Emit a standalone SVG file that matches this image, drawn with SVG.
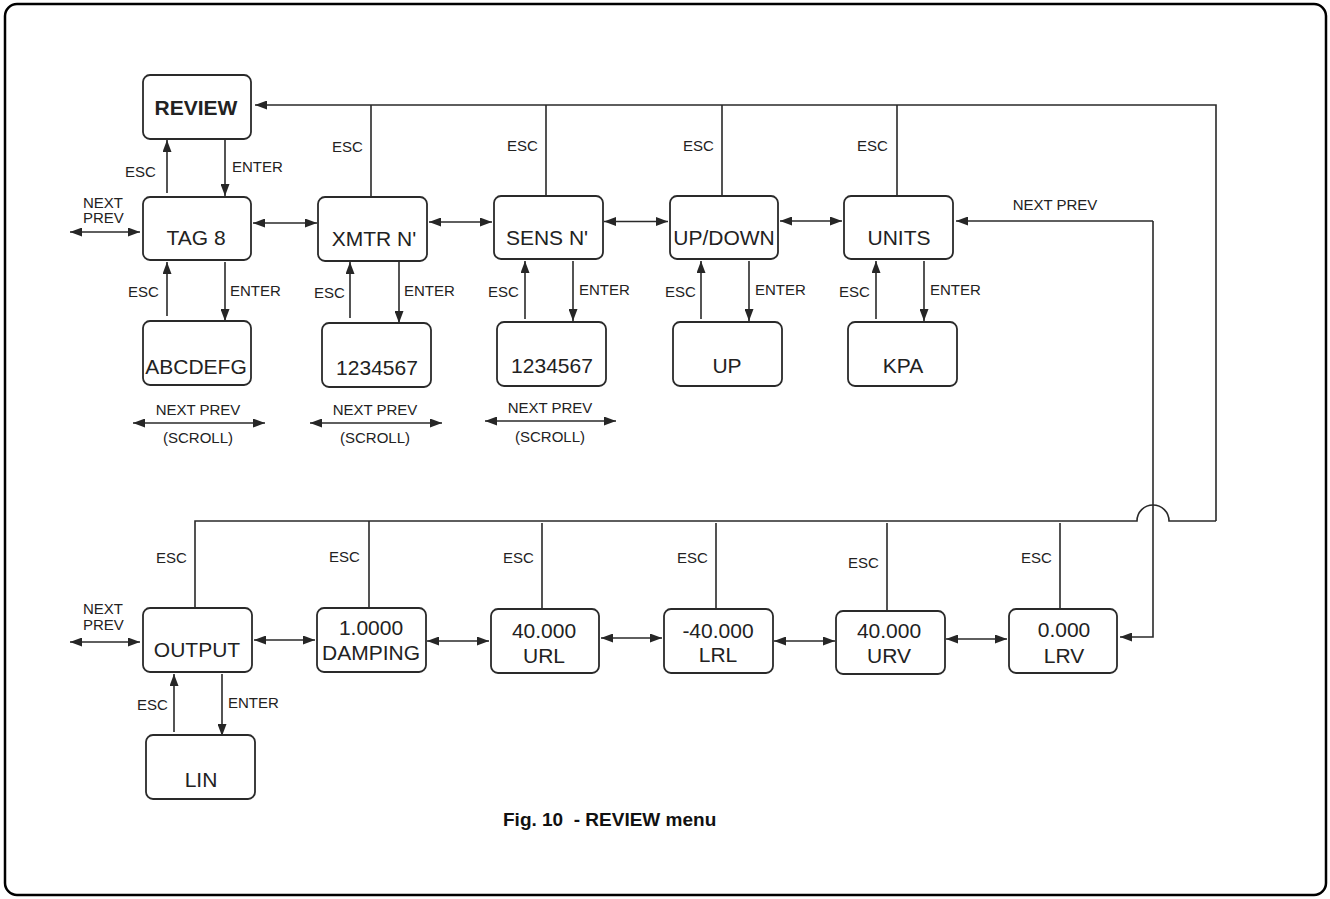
<svg xmlns="http://www.w3.org/2000/svg" width="1330" height="899" viewBox="0 0 1330 899">
<defs>
<marker id="ah" markerUnits="userSpaceOnUse" markerWidth="12" markerHeight="9" refX="12" refY="4.5" orient="auto-start-reverse" viewBox="0 0 12 9">
<path d="M0,0 L12,4.5 L0,9 z" fill="#262626"/>
</marker>
</defs>
<style>
.box{fill:#fff;stroke:#2a2a2a;stroke-width:1.8}
.ln{fill:none;stroke:#2a2a2a;stroke-width:1.6}
.a1{marker-end:url(#ah)}
.a2{marker-start:url(#ah);marker-end:url(#ah)}
.t{font-family:"Liberation Sans",Arial,sans-serif;font-size:21px;fill:#222;text-anchor:middle}
.b{font-weight:bold}
.s{font-family:"Liberation Sans",Arial,sans-serif;font-size:15px;fill:#222}
.sc{text-anchor:middle}
.cap{font-family:"Liberation Sans",Arial,sans-serif;font-size:19px;font-weight:bold;fill:#111;white-space:pre}
</style>
<rect x="5" y="4" width="1321" height="891" rx="12" fill="#fff" stroke="#000" stroke-width="2.5"/>

<g id="connectors">
<path class="ln a1" d="M1216,521 L1216,105 L255,105"/>
<path class="ln" d="M371,105 V197 M546,105 V196 M722,105 V196 M897,105 V196"/>
<path class="ln" d="M1216,521 H1169 A16,16 0 0 0 1137,521 H195 V608"/>
<path class="ln" d="M369,521 V608 M542,523 V609 M716,523 V609 M887,523 V611 M1060,523 V609"/>
<path class="ln a1" d="M1153,221 H956"/>
<path class="ln a1" d="M1153,221 V637 H1120"/>
<path class="ln a1" d="M167,193 V140"/>
<path class="ln a1" d="M225,140 V196"/>
<path class="ln a1" d="M167,316 V262"/>
<path class="ln a1" d="M225,262 V321"/>
<path class="ln a1" d="M350,318 V262"/>
<path class="ln a1" d="M399,262 V323"/>
<path class="ln a1" d="M525,319 V261"/>
<path class="ln a1" d="M573,261 V321"/>
<path class="ln a1" d="M701,319 V261"/>
<path class="ln a1" d="M749,261 V321"/>
<path class="ln a1" d="M876,319 V261"/>
<path class="ln a1" d="M924,261 V321"/>
<path class="ln a1" d="M174,732 V674"/>
<path class="ln a1" d="M222,674 V736"/>
<path class="ln a2" d="M70,232 H140"/>
<path class="ln a2" d="M253,223 H317"/>
<path class="ln a2" d="M429,222 H492"/>
<path class="ln a2" d="M604,221.5 H668"/>
<path class="ln a2" d="M780,221 H842"/>
<path class="ln a2" d="M70,642 H140"/>
<path class="ln a2" d="M254,640 H315"/>
<path class="ln a2" d="M427,641 H489"/>
<path class="ln a2" d="M601,638 H662"/>
<path class="ln a2" d="M774,641 H835"/>
<path class="ln a2" d="M946,639 H1007"/>
<path class="ln a2" d="M133,423 H265"/>
<path class="ln a2" d="M310,423 H442"/>
<path class="ln a2" d="M485,421 H616"/>
<text class="s" x="125" y="177">ESC</text>
<text class="s" x="232" y="172">ENTER</text>
<text class="s" x="332" y="152">ESC</text>
<text class="s" x="507" y="151">ESC</text>
<text class="s" x="683" y="151">ESC</text>
<text class="s" x="857" y="151">ESC</text>
<text class="s" x="83" y="208">NEXT</text>
<text class="s" x="83" y="223">PREV</text>
<text class="s sc" x="1055" y="210">NEXT PREV</text>
<text class="s" x="128" y="297">ESC</text>
<text class="s" x="230" y="296">ENTER</text>
<text class="s" x="314" y="298">ESC</text>
<text class="s" x="404" y="296">ENTER</text>
<text class="s" x="488" y="297">ESC</text>
<text class="s" x="579" y="295">ENTER</text>
<text class="s" x="665" y="297">ESC</text>
<text class="s" x="755" y="295">ENTER</text>
<text class="s" x="839" y="297">ESC</text>
<text class="s" x="930" y="295">ENTER</text>
<text class="s sc" x="198" y="415">NEXT PREV</text>
<text class="s sc" x="198" y="443">(SCROLL)</text>
<text class="s sc" x="375" y="415">NEXT PREV</text>
<text class="s sc" x="375" y="443">(SCROLL)</text>
<text class="s sc" x="550" y="413">NEXT PREV</text>
<text class="s sc" x="550" y="442">(SCROLL)</text>
<text class="s" x="156" y="563">ESC</text>
<text class="s" x="329" y="562">ESC</text>
<text class="s" x="503" y="563">ESC</text>
<text class="s" x="677" y="563">ESC</text>
<text class="s" x="848" y="568">ESC</text>
<text class="s" x="1021" y="563">ESC</text>
<text class="s" x="83" y="614">NEXT</text>
<text class="s" x="83" y="630">PREV</text>
<text class="s" x="137" y="710">ESC</text>
<text class="s" x="228" y="708">ENTER</text>
</g>

<g id="review"><rect class="box" x="143" y="75" width="108" height="64" rx="7"/><text class="t b" x="196" y="115">REVIEW</text></g>
<g id="tag8"><rect class="box" x="143" y="197" width="108" height="63" rx="7"/><text class="t" x="196" y="245">TAG 8</text></g>
<g id="xmtr"><rect class="box" x="318" y="197" width="109" height="64" rx="7"/><text class="t" x="374" y="246">XMTR N'</text></g>
<g id="sens"><rect class="box" x="494" y="196" width="109" height="63" rx="7"/><text class="t" x="547" y="245">SENS N'</text></g>
<g id="updown"><rect class="box" x="670" y="196" width="108" height="63" rx="7"/><text class="t" x="724" y="245">UP/DOWN</text></g>
<g id="units"><rect class="box" x="844" y="196" width="109" height="63" rx="7"/><text class="t" x="899" y="245">UNITS</text></g>

<g id="abcdefg"><rect class="box" x="143" y="321" width="108" height="64" rx="7"/><text class="t" x="196" y="374">ABCDEFG</text></g>
<g id="xmtrval"><rect class="box" x="322" y="323" width="109" height="64" rx="7"/><text class="t" x="377" y="375">1234567</text></g>
<g id="sensval"><rect class="box" x="497" y="322" width="109" height="64" rx="7"/><text class="t" x="552" y="373">1234567</text></g>
<g id="up"><rect class="box" x="673" y="322" width="109" height="64" rx="7"/><text class="t" x="727" y="373">UP</text></g>
<g id="kpa"><rect class="box" x="848" y="322" width="109" height="64" rx="7"/><text class="t" x="903" y="373">KPA</text></g>

<g id="output"><rect class="box" x="143" y="608" width="109" height="64" rx="7"/><text class="t" x="197" y="657">OUTPUT</text></g>
<g id="damping"><rect class="box" x="317" y="608" width="109" height="64" rx="7"/><text class="t" x="371" y="635">1.0000</text><text class="t" x="371" y="660">DAMPING</text></g>
<g id="url"><rect class="box" x="491" y="609" width="108" height="64" rx="7"/><text class="t" x="544" y="638">40.000</text><text class="t" x="544" y="663">URL</text></g>
<g id="lrl"><rect class="box" x="664" y="609" width="109" height="64" rx="7"/><text class="t" x="718" y="638">-40.000</text><text class="t" x="718" y="662">LRL</text></g>
<g id="urv"><rect class="box" x="836" y="611" width="109" height="63" rx="7"/><text class="t" x="889" y="638">40.000</text><text class="t" x="889" y="663">URV</text></g>
<g id="lrv"><rect class="box" x="1009" y="609" width="108" height="64" rx="7"/><text class="t" x="1064" y="637">0.000</text><text class="t" x="1064" y="663">LRV</text></g>

<g id="lin"><rect class="box" x="146" y="735" width="109" height="64" rx="7"/><text class="t" x="201" y="787">LIN</text></g>

<text class="cap" x="503" y="826">Fig. 10  - REVIEW menu</text>
</svg>
